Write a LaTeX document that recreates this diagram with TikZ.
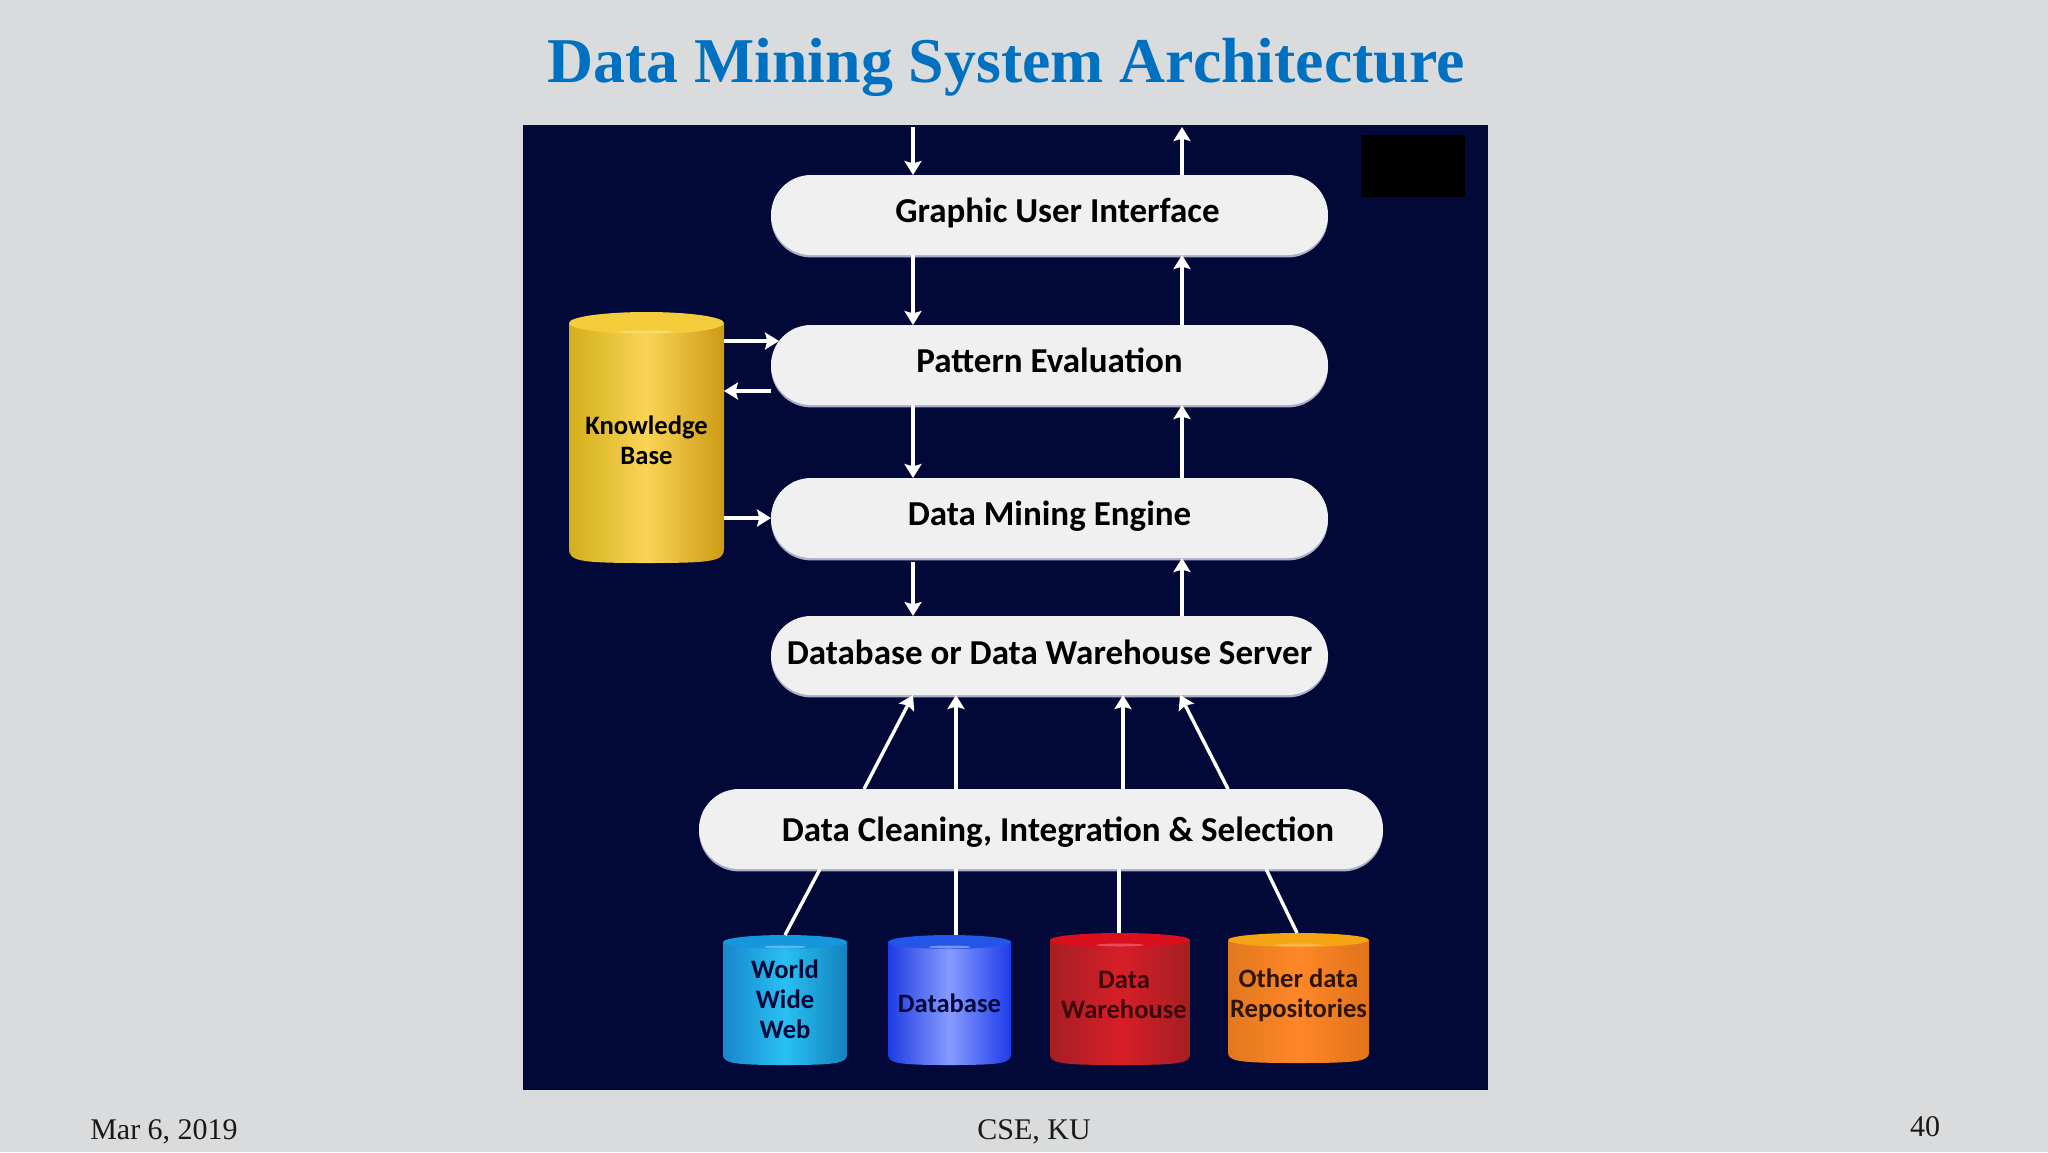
\documentclass[tikz,border=0pt]{standalone}
\usepackage{fontspec}
\setmainfont{Liberation Serif}
\newfontfamily\labelfont{Carlito}[BoldFont={Carlito Bold}]
\usetikzlibrary{arrows.meta,shadows,calc}
\definecolor{slidebg}{RGB}{218,219,220}
\definecolor{navy}{RGB}{2,9,56}
\definecolor{titleblue}{RGB}{0,112,192}
\definecolor{pillfill}{RGB}{240,240,241}
\definecolor{pilledge}{RGB}{170,175,200}
\definecolor{kbL}{RGB}{210,175,28}\definecolor{kbM}{RGB}{250,212,85}\definecolor{kbR}{RGB}{205,155,22}\definecolor{kbC}{RGB}{245,205,60}
\definecolor{wwL}{RGB}{25,135,205}\definecolor{wwM}{RGB}{40,192,242}\definecolor{wwR}{RGB}{20,130,190}\definecolor{wwC}{RGB}{22,150,220}
\definecolor{dbL}{RGB}{30,60,225}\definecolor{dbM}{RGB}{135,155,255}\definecolor{dbR}{RGB}{30,60,235}\definecolor{dbC}{RGB}{35,85,230}
\definecolor{dwL}{RGB}{165,30,35}\definecolor{dwM}{RGB}{215,30,40}\definecolor{dwR}{RGB}{165,30,35}\definecolor{dwC}{RGB}{220,15,30}
\definecolor{otL}{RGB}{225,120,30}\definecolor{otM}{RGB}{255,135,40}\definecolor{otR}{RGB}{225,115,25}\definecolor{otC}{RGB}{245,165,20}
\definecolor{redtext}{RGB}{60,8,12}
\definecolor{orgtext}{RGB}{45,20,5}
\newcommand{\cylbody}[9]{%
  % x0 ytop x1 ybot e left mid right cap
  \path[left color=#6,right color=#8,middle color=#7]
    (#1,#2+#5) -- (#1,#4-#5-4) .. controls (#1,#4-2) and (#1+8,#4) .. ($(#1,#4)!.5!(#3,#4)$)
    .. controls (#3-8,#4) and (#3,#4-2) .. (#3,#4-#5-4) -- (#3,#2+#5) -- cycle;
  \fill[#9] ($(#1,#2+#5)!.5!(#3,#2+#5)$) ellipse [x radius={(#3-#1)/2}, y radius=#5];
  \fill[#7!55!white,opacity=.55] ($(#1,#2+2*#5-2)!.5!(#3,#2+2*#5-2)$) ellipse [x radius={(#3-#1)*.17}, y radius=1.5];
}
\tikzset{
  x=0.5pt,y=-0.5pt,
  pill/.style={rectangle,rounded corners=20pt,fill=pillfill,inner sep=0pt,outer sep=0pt,
    text=black,font=\labelfont\bfseries\fontsize{17.5}{20}\selectfont,
    text height=11pt,text depth=4pt,
    drop shadow={shadow xshift=0pt,shadow yshift=-1.2pt,fill=pilledge,opacity=1}},
  cyltext/.style={align=center,inner sep=0pt,outer sep=0pt,
    font=\labelfont\bfseries\fontsize{13.3}{15}\selectfont},
  flow/.style={draw=white,line width=1.7pt,-{Stealth[length=7pt,width=8.5pt,inset=1.2pt]}},
  plain/.style={draw=white,line width=1.7pt},
  footer/.style={inner sep=0pt,font=\fontsize{15}{17}\selectfont,text=black!90}
}
\begin{document}
\begin{tikzpicture}
\useasboundingbox (0,0) rectangle (2048,1152);
\fill[slidebg] (0,0) rectangle (2048,1152);
\fill[navy] (523,125) rectangle (1488,1090);
\fill[black] (1361,135) rectangle (1465,197);

\node[inner sep=0pt,text=titleblue,font=\bfseries\fontsize{31.9}{35}\selectfont] (title) at (1006,67.5) {Data Mining System Architecture};

% pills
\node[pill,minimum width=278.5pt,minimum height=40pt] (gui) at (1049.5,215) {\hspace*{8pt}Graphic User Interface};
\node[pill,minimum width=278.5pt,minimum height=40pt] (pe) at (1049.5,365) {Pattern Evaluation};
\node[pill,minimum width=278.5pt,minimum height=40pt] (dme) at (1049.5,518) {Data Mining Engine};
\node[pill,minimum width=278.5pt,minimum height=39.5pt,text depth=2pt] (dbs) at (1049.5,655.5) {Database or Data Warehouse Server};
\node[pill,minimum width=342pt,minimum height=40pt,text height=12.5pt,text depth=0pt] (dc) at (1041,829) {\hspace*{17pt}Data Cleaning, Integration \& Selection};

% cylinders
\cylbody{569}{312}{724}{563}{11}{kbL}{kbM}{kbR}{kbC}
\node[cyltext,text=black,minimum width=77.5pt,minimum height=125.5pt] (kb) at (646.5,440) {Knowledge\\Base};
\cylbody{723}{935}{847}{1065}{7}{wwL}{wwM}{wwR}{wwC}
\node[cyltext,text=navy,minimum width=62pt,minimum height=65pt] (www) at (785,999) {World\\Wide\\Web};
\cylbody{888}{935}{1011}{1065}{7}{dbL}{dbM}{dbR}{dbC}
\node[cyltext,text=navy,minimum width=61.5pt,minimum height=65pt] (db) at (949.5,1003) {Database};
\cylbody{1050}{933}{1190}{1065}{7}{dwL}{dwM}{dwR}{dwC}
\node[cyltext,text=redtext,minimum width=70pt,minimum height=66pt] (dw) at (1124,995) {Data\\Warehouse};
\cylbody{1228}{933}{1369}{1063}{7}{otL}{otM}{otR}{otC}
\node[cyltext,text=orgtext,minimum width=70.5pt,minimum height=65pt] (other) at (1298.5,995.5) {Other data\\Repositories};

% connector tracks
\coordinate (lx) at (913,0);
\coordinate (rx) at (1182,0);
\coordinate (inl) at (913,127);
\coordinate (outr) at (1182,127);
\coordinate (kbra) at (724,341);
\coordinate (kbrb) at (724,391);
\coordinate (kbrc) at (724,518);

\draw[flow] (inl) -- (gui.north -| lx);
\draw[flow] (gui.north -| rx) -- (outr);
\draw[flow] (gui.south -| lx) -- (pe.north -| lx);
\draw[flow] (pe.north -| rx) -- (gui.south -| rx);
\draw[flow] (pe.south -| lx) -- (dme.north -| lx);
\draw[flow] (dme.north -| rx) -- (pe.south -| rx);
\draw[flow] ($(dme.south -| lx)+(0,4)$) -- (dbs.north -| lx);
\draw[flow] (dbs.north -| rx) -- (dme.south -| rx);

\draw[flow] (kbra) -- ($(kbra -| pe.west)+(8,0)$);
\draw[flow] (kbrb -| pe.west) -- (kbrb);
\draw[flow] (kbrc) -- (kbrc -| dme.west);

\coordinate (a1) at (864,0); \coordinate (a2) at (956,0); \coordinate (a3) at (1123,0); \coordinate (a4) at (1228,0);
\coordinate (b1) at (913,0); \coordinate (b2) at (956,0); \coordinate (b3) at (1123,0); \coordinate (b4) at (1180,0);
\draw[flow] (dc.north -| a1) -- (dbs.south -| b1);
\draw[flow] (dc.north -| a2) -- (dbs.south -| b2);
\draw[flow] (dc.north -| a3) -- (dbs.south -| b3);
\draw[flow] (dc.north -| a4) -- (dbs.south -| b4);

\coordinate (c1) at (820,0); \coordinate (c2) at (956,0); \coordinate (c3) at (1119,0); \coordinate (c4) at (1266,0);
\coordinate (d1) at (785,935); \coordinate (d2) at (956,935); \coordinate (d3) at (1119,933); \coordinate (d4) at (1297,933);
\draw[plain] (dc.south -| c1) -- (d1);
\draw[plain] (dc.south -| c2) -- (d2);
\draw[plain] (dc.south -| c3) -- (d3);
\draw[plain] (dc.south -| c4) -- (d4);

% footer
\node[footer] (date) at (164,1132) {Mar 6, 2019};
\node[footer] (org) at (1034,1132) {CSE, KU};
\node[footer] (page) at (1925,1127) {40};
\end{tikzpicture}
\end{document}
